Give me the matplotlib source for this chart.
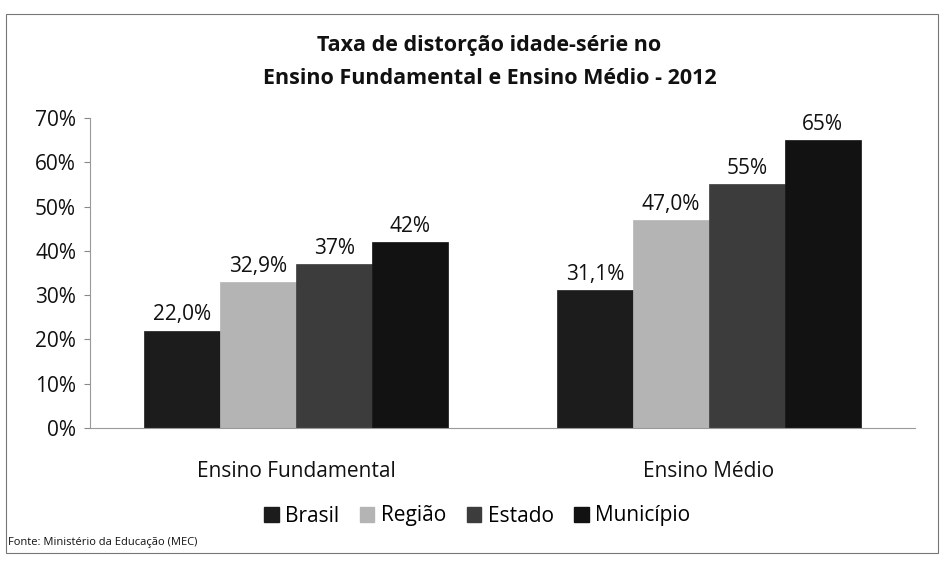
import matplotlib
matplotlib.use("Agg")
import matplotlib.pyplot as plt
from matplotlib.patches import Rectangle, Patch
import numpy as np
from matplotlib import font_manager

names = {f.name for f in font_manager.fontManager.ttflist}
fam = ['Liberation Sans Narrow', 'DejaVu Sans'] if 'Liberation Sans Narrow' in names else ['Open Sans', 'DejaVu Sans']
plt.rcParams['font.family'] = fam

categories = ["Ensino Fundamental", "Ensino Médio"]
series = ["Brasil", "Região", "Estado", "Município"]
brasil = [22.0, 31.1]
regiao = [32.9, 47.0]
estado = [37.0, 55.0]
municipio = [42.0, 65.0]
value_labels = [["22,0%", "31,1%"], ["32,9%", "47,0%"], ["37%", "55%"], ["42%", "65%"]]
yticks = [0, 10, 20, 30, 40, 50, 60, 70]
ytick_labels = ["0%", "10%", "20%", "30%", "40%", "50%", "60%", "70%"]

colors = ["#1c1c1c", "#b4b4b4", "#3c3c3c", "#121212"]
values = [brasil, regiao, estado, municipio]

fig = plt.figure(figsize=(9.45, 5.77), dpi=100)
ax = fig.add_axes([90/945, 1 - 428/577, 825/945, 310/577])

x = np.arange(len(categories))
w = 0.184
offsets = (np.arange(4) - 1.5) * w
for i, (vals, c) in enumerate(zip(values, colors)):
    bars = ax.bar(x + offsets[i], vals, width=w, color=c, edgecolor=c, linewidth=0.5, label=series[i])
    for b, lab in zip(bars, value_labels[i]):
        ax.text(b.get_x() + b.get_width() / 2, b.get_height() + 1.2, lab,
                ha='center', va='bottom', fontsize=15, color='#111111')

ax.set_xlim(-0.5, 1.5)
ax.set_ylim(0, 70)
ax.set_yticks(yticks)
ax.set_yticklabels(ytick_labels, fontsize=15, color='#111111')
ax.set_xticks(x)
ax.set_xticklabels(categories, fontsize=15, color='#111111')
ax.tick_params(axis='x', length=0, pad=24)
ax.tick_params(axis='y', length=4, color='#888888', pad=6)
for s in ['top', 'right']:
    ax.spines[s].set_visible(False)
ax.spines['left'].set_color('#999999')
ax.spines['bottom'].set_color('#999999')
ax.spines['left'].set_linewidth(0.8)
ax.spines['bottom'].set_linewidth(0.8)

fig.text(0.518, 1 - 46/577, "Taxa de distorção idade-série no", ha='center', va='center',
         fontsize=15.5, fontweight='bold', color='#111111')
fig.text(0.518, 1 - 79/577, "Ensino Fundamental e Ensino Médio - 2012", ha='center', va='center',
         fontsize=15.5, fontweight='bold', color='#111111')

handles = [Patch(facecolor=c, edgecolor=c) for c in colors]
fig.legend(handles, series, loc='center', bbox_to_anchor=(0.505, 1 - 516/577), ncol=4,
           frameon=False, fontsize=15, handlelength=0.7, handleheight=0.7,
           handletextpad=0.3, columnspacing=1.0)

fig.text(8/945, 1 - 543/577, "Fonte: Ministério da Educação (MEC)", ha='left', va='center',
         fontsize=8, color='#111111')

fig.patches.append(Rectangle((6/945, 1 - 553/577), 932/945, 539/577, transform=fig.transFigure,
                             fill=False, edgecolor='#777777', linewidth=0.8))

fig.savefig("out.png", dpi=100)
